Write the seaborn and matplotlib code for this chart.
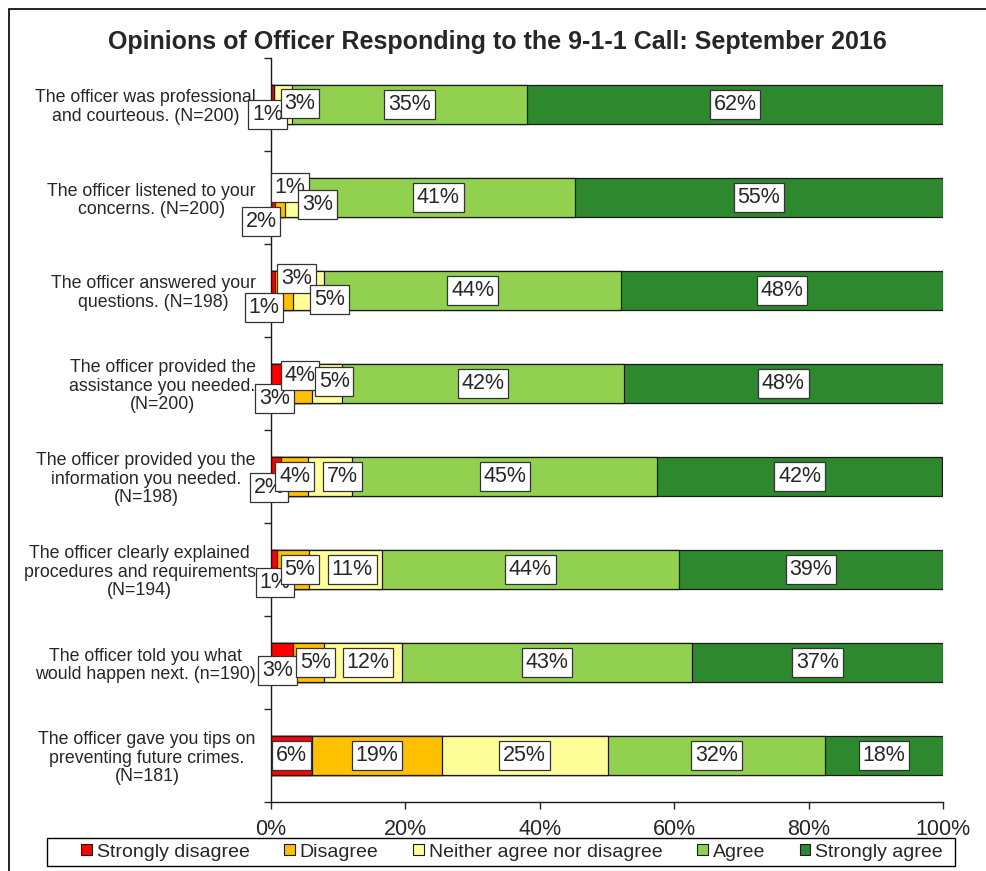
import math

import matplotlib.pyplot as plt
import pandas as pd
import seaborn as sns
from matplotlib.patches import Patch, Rectangle

questions = [
    'The officer was professional\nand courteous. (N=200)',
    'The officer listened to your\nconcerns. (N=200)',
    'The officer answered your\nquestions. (N=198)',
    'The officer provided the\nassistance you needed.\n(N=200)',
    'The officer provided you the\ninformation you needed.\n(N=198)',
    'The officer clearly explained\nprocedures and requirements\n(N=194)',
    'The officer told you what\nwould happen next. (n=190)',
    'The officer gave you tips on\npreventing future crimes.\n(N=181)',
]
categories = ['Strongly disagree', 'Disagree', 'Neither agree nor disagree', 'Agree', 'Strongly agree']

strongly_disagree = [0.5, 0.6, 0.6, 2.5, 1.5, 0.9, 3.2, 6.1]
disagree = [0.0, 1.5, 2.6, 3.6, 4.0, 4.7, 4.7, 19.3]
neutral = [2.6, 2.5, 4.7, 4.5, 6.6, 10.9, 11.6, 24.7]
agree = [35.0, 40.6, 44.2, 41.9, 45.4, 44.2, 43.1, 32.3]
strongly_agree = [61.9, 54.8, 47.9, 47.5, 42.4, 39.3, 37.4, 17.6]

colors = ['#FF0000', '#FFC000', '#FFFF99', '#92D050', '#2E882E']

# label nudges in pixels (dx, dy; dy down) for the crowded small segments
nudges = {
    (0, 0): (-5, 10), (0, 2): (17, -1),
    (1, 0): (17, -10), (1, 1): (-19, 24), (1, 2): (24, 7),
    (2, 0): (-9, 17), (2, 1): (13, -12), (2, 2): (21, 9),
    (3, 0): (-5, 15), (3, 1): (0, -8), (3, 2): (7, -2),
    (4, 0): (-7, 11), (4, 2): (12, 0),
    (5, 0): (1, 13), (5, 1): (7, 0), (5, 2): (7, 0),
    (6, 0): (-4, 8), (6, 1): (7, 0), (6, 2): (5, 0),
}

df = pd.DataFrame({'question': questions})
for name, vals in zip(categories, [strongly_disagree, disagree, neutral, agree, strongly_agree]):
    df[name] = vals
cum = df[categories].cumsum(axis=1)

sns.set_style('white')
plt.rcParams['font.family'] = ['Liberation Sans', 'DejaVu Sans']

fig = plt.figure(figsize=(9.86, 8.71), dpi=100)
ax = fig.add_axes([271 / 986, 1 - 802 / 871, 672 / 986, 744 / 871])

for name, color in reversed(list(zip(categories, colors))):
    sns.barplot(x=cum[name], y=df['question'], orient='h', color=color, saturation=1,
                width=0.41, edgecolor='#1a1a1a', linewidth=0.9, ax=ax)

for i in range(len(df)):
    start = 0
    for j, name in enumerate(categories):
        v = df.loc[i, name]
        if v > 0:
            dx, dy = nudges.get((i, j), (0, 0))
            ax.annotate(f'{math.floor(v + 0.5)}%', (start + v / 2, i),
                        xytext=(dx, -dy), textcoords='offset pixels',
                        ha='center', va='center', fontsize=15.5,
                        bbox=dict(boxstyle='square,pad=0.18', fc='white', ec='#333333', lw=0.9))
        start += v

ax.set_xlim(0, 100)
ax.set_ylim(len(df) - 0.5, -0.5)
ax.set_xticks(range(0, 101, 20))
ax.set_xticklabels([f'{t}%' for t in range(0, 101, 20)], fontsize=15.5)
ax.set_xlabel('')
ax.set_ylabel('')
ax.tick_params(axis='y', length=0, pad=11, labelsize=12.8)
ax.tick_params(axis='x', length=5, width=1, direction='out', pad=7, bottom=True)
ax.set_yticks([k + 0.5 for k in range(-1, len(df))], minor=True)
ax.tick_params(axis='y', which='minor', length=5, width=1, direction='out', left=True)
for lab in ax.get_yticklabels():
    lab.set_multialignment('center')
    lab.set_linespacing(1.1)
for side in ['top', 'right']:
    ax.spines[side].set_visible(False)
for side in ['left', 'bottom']:
    ax.spines[side].set_color('#1a1a1a')
    ax.spines[side].set_linewidth(1)

fig.text(497 / 986, 1 - 42 / 871, 'Opinions of Officer Responding to the 9-1-1 Call: September 2016',
         ha='center', va='center', fontsize=18, fontweight='bold')

handles = [Patch(facecolor=c, edgecolor='#1a1a1a', linewidth=0.8) for c in colors]
fig.legend(handles, categories, loc='center', bbox_to_anchor=(512 / 986, 1 - 852 / 871),
           ncol=5, fontsize=14, frameon=False, handlelength=0.55,
           handleheight=0.55, handletextpad=0.25, columnspacing=1.78, borderpad=0.1)
fig.patches.append(Rectangle((47 / 986, 1 - 866 / 871), 908 / 986, 28 / 871, transform=fig.transFigure,
                             fill=False, edgecolor='black', linewidth=1))

fig.patches.append(Rectangle((9 / 986, -0.05), 1.1, 1 - 9 / 871 + 0.05, transform=fig.transFigure,
                             fill=False, edgecolor='black', linewidth=1.2))

fig.savefig('out.png', dpi=100)
